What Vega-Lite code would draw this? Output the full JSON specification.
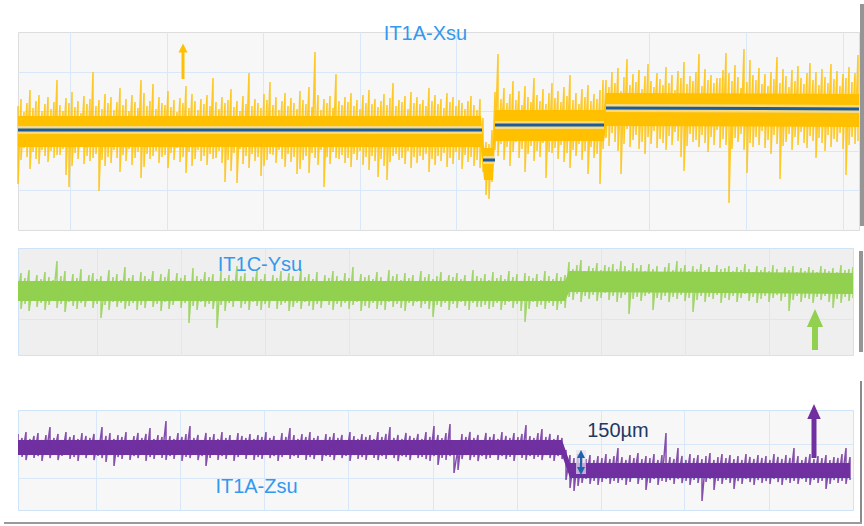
{
"$schema":"https://vega.github.io/schema/vega-lite/v6.json",
"background":"white",
"padding":0,
"spacing":0,
"columns":1,
"config":{"axis":{"labels":false,"ticks":false,"domain":false,"gridColor":"#d8e8f8","gridOpacity":1,"gridWidth":1},"text":{"font":"Liberation Sans"}},
"datasets":{
"a1":[{"x":0,"l":83,"h":114},{"x":463,"l":83,"h":114},{"x":466,"l":50,"h":82},{"x":475,"l":50,"h":82},{"x":477,"l":89,"h":120},{"x":586,"l":89,"h":120},{"x":588,"l":104,"h":137},{"x":841,"l":103,"h":136}],
"a2":[
{"x":0,"h":124,"l":46},{"x":3,"h":131,"l":70},{"x":6,"h":118,"l":82},{"x":9,"h":127,"l":73},{"x":12,"h":140,"l":61},{"x":15,"h":122,"l":78},{"x":18,"h":129,"l":71},{"x":21,"h":135,"l":66},{"x":24,"h":119,"l":80},{"x":27,"h":126,"l":74},
{"x":30,"h":133,"l":68},{"x":33,"h":121,"l":79},{"x":36,"h":128,"l":72},{"x":39,"h":150,"l":75},{"x":42,"h":125,"l":75},{"x":45,"h":119,"l":81},{"x":48,"h":132,"l":55},{"x":51,"h":127,"l":43},{"x":54,"h":138,"l":64},{"x":57,"h":123,"l":77},
{"x":60,"h":129,"l":71},{"x":63,"h":117,"l":83},{"x":66,"h":134,"l":66},{"x":69,"h":126,"l":74},{"x":72,"h":131,"l":69},{"x":75,"h":158,"l":72},{"x":78,"h":124,"l":76},{"x":81,"h":130,"l":39},{"x":84,"h":121,"l":70},{"x":87,"h":136,"l":64},
{"x":90,"h":127,"l":73},{"x":93,"h":133,"l":67},{"x":96,"h":120,"l":80},{"x":99,"h":128,"l":72},{"x":102,"h":142,"l":58},{"x":105,"h":125,"l":75},{"x":108,"h":131,"l":69},{"x":111,"h":119,"l":81},{"x":114,"h":135,"l":65},{"x":117,"h":128,"l":72},
{"x":120,"h":122,"l":78},{"x":123,"h":150,"l":52},{"x":126,"h":137,"l":63},{"x":129,"h":124,"l":76},{"x":132,"h":129,"l":71},{"x":135,"h":146,"l":74},{"x":138,"h":121,"l":79},{"x":141,"h":133,"l":67},{"x":144,"h":127,"l":73},{"x":147,"h":125,"l":75},
{"x":150,"h":139,"l":62},{"x":153,"h":123,"l":77},{"x":156,"h":130,"l":70},{"x":159,"h":118,"l":82},{"x":162,"h":132,"l":68},{"x":165,"h":127,"l":73},{"x":168,"h":144,"l":57},{"x":171,"h":122,"l":78},{"x":174,"h":136,"l":64},{"x":177,"h":129,"l":71},
{"x":180,"h":120,"l":80},{"x":183,"h":131,"l":69},{"x":186,"h":126,"l":74},{"x":189,"h":135,"l":65},{"x":192,"h":124,"l":76},{"x":195,"h":152,"l":71},{"x":198,"h":128,"l":72},{"x":201,"h":121,"l":79},{"x":204,"h":133,"l":67},{"x":207,"h":127,"l":48},
{"x":210,"h":130,"l":70},{"x":213,"h":141,"l":59},{"x":216,"h":123,"l":77},{"x":219,"h":129,"l":47},{"x":222,"h":119,"l":81},{"x":225,"h":134,"l":66},{"x":228,"h":126,"l":74},{"x":231,"h":157,"l":62},{"x":234,"h":124,"l":76},{"x":237,"h":131,"l":69},
{"x":240,"h":127,"l":73},{"x":243,"h":122,"l":54},{"x":246,"h":136,"l":64},{"x":249,"h":130,"l":70},{"x":252,"h":148,"l":76},{"x":255,"h":125,"l":75},{"x":258,"h":133,"l":67},{"x":261,"h":120,"l":80},{"x":264,"h":129,"l":71},{"x":267,"h":137,"l":63},
{"x":270,"h":124,"l":76},{"x":273,"h":132,"l":68},{"x":276,"h":127,"l":73},{"x":279,"h":121,"l":56},{"x":282,"h":139,"l":61},{"x":285,"h":130,"l":70},{"x":288,"h":126,"l":74},{"x":291,"h":143,"l":57},{"x":294,"h":123,"l":77},{"x":297,"h":178,"l":72},
{"x":300,"h":135,"l":65},{"x":303,"h":120,"l":80},{"x":306,"h":131,"l":43},{"x":309,"h":127,"l":73},{"x":312,"h":134,"l":66},{"x":315,"h":122,"l":78},{"x":318,"h":156,"l":72},{"x":321,"h":129,"l":71},{"x":324,"h":125,"l":75},{"x":327,"h":133,"l":67},
{"x":330,"h":128,"l":72},{"x":333,"h":137,"l":63},{"x":336,"h":124,"l":76},{"x":339,"h":130,"l":70},{"x":342,"h":121,"l":79},{"x":345,"h":135,"l":65},{"x":348,"h":127,"l":73},{"x":351,"h":140,"l":60},{"x":354,"h":126,"l":74},{"x":357,"h":131,"l":69},
{"x":360,"h":123,"l":53},{"x":363,"h":129,"l":71},{"x":366,"h":136,"l":64},{"x":369,"h":125,"l":50},{"x":372,"h":132,"l":68},{"x":375,"h":147,"l":74},{"x":378,"h":124,"l":76},{"x":381,"h":130,"l":70},{"x":384,"h":128,"l":72},{"x":387,"h":134,"l":66},
{"x":390,"h":121,"l":79},{"x":393,"h":138,"l":62},{"x":396,"h":127,"l":73},{"x":399,"h":133,"l":67},{"x":402,"h":126,"l":74},{"x":405,"h":130,"l":70},{"x":408,"h":124,"l":76},{"x":411,"h":142,"l":58},{"x":414,"h":129,"l":71},{"x":417,"h":135,"l":65},
{"x":420,"h":126,"l":74},{"x":423,"h":131,"l":69},{"x":426,"h":122,"l":77},{"x":429,"h":137,"l":63},{"x":432,"h":128,"l":72},{"x":435,"h":133,"l":66},{"x":438,"h":124,"l":78},{"x":441,"h":130,"l":70},{"x":444,"h":127,"l":61},{"x":447,"h":121,"l":75},
{"x":450,"h":129,"l":68},{"x":453,"h":134,"l":73},{"x":456,"h":125,"l":64},{"x":459,"h":120,"l":70},{"x":462,"h":131,"l":62},
{"x":465,"h":112,"l":58},{"x":468,"h":88,"l":35},{"x":471,"h":86,"l":31},{"x":474,"h":100,"l":48},
{"x":477,"h":138,"l":80},{"x":480,"h":176,"l":74},{"x":483,"h":131,"l":86},{"x":486,"h":142,"l":70},{"x":489,"h":127,"l":83},{"x":492,"h":136,"l":64},{"x":495,"h":149,"l":78},{"x":498,"h":130,"l":88},{"x":501,"h":139,"l":72},{"x":504,"h":125,"l":81},
{"x":507,"h":144,"l":58},{"x":510,"h":133,"l":76},{"x":513,"h":128,"l":84},{"x":516,"h":152,"l":69},{"x":519,"h":135,"l":79},{"x":522,"h":129,"l":73},{"x":525,"h":141,"l":87},{"x":528,"h":126,"l":52},{"x":531,"h":137,"l":78},{"x":534,"h":147,"l":77},
{"x":537,"h":132,"l":82},{"x":540,"h":139,"l":71},{"x":543,"h":128,"l":85},{"x":546,"h":143,"l":68},{"x":549,"h":134,"l":77},{"x":552,"h":155,"l":62},{"x":555,"h":130,"l":80},{"x":558,"h":137,"l":74},{"x":561,"h":126,"l":86},{"x":564,"h":141,"l":70},
{"x":567,"h":133,"l":79},{"x":570,"h":145,"l":56},{"x":573,"h":129,"l":83},{"x":576,"h":136,"l":72},{"x":579,"h":131,"l":76},{"x":582,"h":140,"l":46},{"x":585,"h":150,"l":81},
{"x":588,"h":150,"l":92},{"x":591,"h":143,"l":84},{"x":594,"h":158,"l":97},{"x":597,"h":147,"l":88},{"x":600,"h":162,"l":79},{"x":603,"h":139,"l":56},{"x":606,"h":153,"l":86},{"x":609,"h":171,"l":101},{"x":612,"h":145,"l":83},{"x":615,"h":156,"l":90},
{"x":618,"h":148,"l":95},{"x":621,"h":160,"l":81},{"x":624,"h":141,"l":88},{"x":627,"h":154,"l":76},{"x":630,"h":166,"l":93},{"x":633,"h":149,"l":86},{"x":636,"h":143,"l":99},{"x":639,"h":157,"l":82},{"x":642,"h":151,"l":91},{"x":645,"h":145,"l":87},
{"x":648,"h":163,"l":80},{"x":651,"h":147,"l":94},{"x":654,"h":155,"l":85},{"x":657,"h":140,"l":98},{"x":660,"h":159,"l":89},{"x":663,"h":152,"l":73},{"x":666,"h":168,"l":59},{"x":669,"h":146,"l":84},{"x":672,"h":154,"l":96},{"x":675,"h":149,"l":88},
{"x":678,"h":158,"l":90},{"x":681,"h":176,"l":83},{"x":684,"h":144,"l":95},{"x":687,"h":161,"l":87},{"x":690,"h":150,"l":78},{"x":693,"h":155,"l":93},{"x":696,"h":147,"l":85},{"x":699,"h":152,"l":100},{"x":702,"h":152,"l":82},{"x":705,"h":160,"l":91},
{"x":708,"h":177,"l":85},{"x":711,"h":157,"l":27},{"x":714,"h":149,"l":81},{"x":717,"h":165,"l":92},{"x":720,"h":153,"l":88},{"x":723,"h":142,"l":96},{"x":726,"h":181,"l":80},{"x":729,"h":148,"l":57},{"x":732,"h":170,"l":87},{"x":735,"h":155,"l":83},
{"x":738,"h":150,"l":93},{"x":741,"h":162,"l":85},{"x":744,"h":146,"l":99},{"x":747,"h":156,"l":82},{"x":750,"h":144,"l":90},{"x":753,"h":158,"l":76},{"x":756,"h":151,"l":95},{"x":759,"h":173,"l":86},{"x":762,"h":147,"l":51},{"x":765,"h":161,"l":84},
{"x":768,"h":154,"l":88},{"x":771,"h":143,"l":96},{"x":774,"h":160,"l":80},{"x":777,"h":149,"l":93},{"x":780,"h":164,"l":85},{"x":783,"h":152,"l":98},{"x":786,"h":146,"l":87},{"x":789,"h":157,"l":82},{"x":792,"h":167,"l":94},{"x":795,"h":150,"l":89},
{"x":798,"h":158,"l":72},{"x":801,"h":145,"l":92},{"x":804,"h":161,"l":87},{"x":807,"h":153,"l":79},{"x":810,"h":147,"l":95},{"x":813,"h":166,"l":83},{"x":816,"h":151,"l":91},{"x":819,"h":159,"l":88},{"x":822,"h":144,"l":97},{"x":825,"h":156,"l":81},
{"x":828,"h":152,"l":55},{"x":831,"h":163,"l":85},{"x":834,"h":148,"l":93},{"x":837,"h":157,"l":86},{"x":840,"h":175,"l":89}],
"am":[{"x":0,"x2":464,"l":100,"h":100},{"x":465,"x2":477,"l":70,"h":70},{"x":477,"x2":586,"l":105,"h":105},{"x":588,"x2":841,"l":122,"h":121}],
"b1":[{"x":0,"l":54,"h":74},{"x":552,"l":54,"h":74},{"x":556,"l":63,"h":84},{"x":840,"l":61,"h":82}],
"b2":[
{"x":0,"h":79,"l":49},{"x":4,"h":74,"l":53},{"x":8,"h":82,"l":46},{"x":12,"h":77,"l":51},{"x":16,"h":85,"l":44},{"x":20,"h":72,"l":55},{"x":24,"h":80,"l":48},{"x":28,"h":76,"l":52},{"x":32,"h":83,"l":45},{"x":36,"h":78,"l":50},
{"x":40,"h":75,"l":54},{"x":44,"h":94,"l":47},{"x":48,"h":79,"l":51},{"x":52,"h":84,"l":43},{"x":56,"h":73,"l":53},{"x":60,"h":81,"l":49},{"x":64,"h":77,"l":46},{"x":68,"h":86,"l":52},{"x":72,"h":74,"l":48},{"x":76,"h":80,"l":55},
{"x":80,"h":82,"l":47},{"x":84,"h":76,"l":51},{"x":88,"h":79,"l":37},{"x":92,"h":73,"l":50},{"x":96,"h":85,"l":45},{"x":100,"h":78,"l":53},{"x":104,"h":81,"l":48},{"x":108,"h":75,"l":52},{"x":112,"h":88,"l":46},{"x":116,"h":77,"l":49},
{"x":120,"h":80,"l":52},{"x":124,"h":74,"l":45},{"x":128,"h":83,"l":50},{"x":132,"h":79,"l":47},{"x":136,"h":76,"l":54},{"x":140,"h":84,"l":48},{"x":144,"h":72,"l":51},{"x":148,"h":81,"l":44},{"x":152,"h":78,"l":53},{"x":156,"h":86,"l":46},
{"x":160,"h":75,"l":50},{"x":164,"h":82,"l":54},{"x":168,"h":77,"l":47},{"x":172,"h":80,"l":52},{"x":176,"h":74,"l":32},{"x":180,"h":87,"l":49},{"x":184,"h":79,"l":45},{"x":188,"h":76,"l":53},{"x":192,"h":83,"l":48},{"x":196,"h":78,"l":51},
{"x":200,"h":81,"l":46},{"x":204,"h":73,"l":27},{"x":208,"h":84,"l":50},{"x":212,"h":77,"l":44},{"x":216,"h":80,"l":52},{"x":220,"h":75,"l":48},{"x":224,"h":89,"l":54},{"x":228,"h":79,"l":47},{"x":232,"h":82,"l":51},{"x":236,"h":74,"l":45},
{"x":240,"h":78,"l":53},{"x":244,"h":85,"l":49},{"x":248,"h":76,"l":45},{"x":252,"h":81,"l":51},{"x":256,"h":73,"l":47},{"x":260,"h":80,"l":54},{"x":264,"h":77,"l":46},{"x":268,"h":84,"l":50},{"x":272,"h":75,"l":52},{"x":276,"h":82,"l":44},
{"x":280,"h":79,"l":48},{"x":284,"h":74,"l":52},{"x":288,"h":86,"l":46},{"x":292,"h":78,"l":53},{"x":296,"h":81,"l":49},{"x":300,"h":76,"l":45},{"x":304,"h":83,"l":51},{"x":308,"h":72,"l":47},{"x":312,"h":80,"l":54},{"x":316,"h":77,"l":50},
{"x":320,"h":84,"l":45},{"x":324,"h":79,"l":51},{"x":328,"h":75,"l":48},{"x":332,"h":82,"l":52},{"x":336,"h":77,"l":46},{"x":340,"h":88,"l":50},{"x":344,"h":74,"l":53},{"x":348,"h":81,"l":44},{"x":352,"h":78,"l":49},{"x":356,"h":80,"l":47},
{"x":360,"h":76,"l":52},{"x":364,"h":83,"l":46},{"x":368,"h":78,"l":50},{"x":372,"h":73,"l":45},{"x":376,"h":85,"l":53},{"x":380,"h":79,"l":48},{"x":384,"h":81,"l":51},{"x":388,"h":75,"l":47},{"x":392,"h":82,"l":44},{"x":396,"h":77,"l":52},
{"x":400,"h":80,"l":49},{"x":404,"h":74,"l":53},{"x":408,"h":84,"l":47},{"x":412,"h":78,"l":51},{"x":416,"h":81,"l":46},{"x":420,"h":76,"l":38},{"x":424,"h":79,"l":50},{"x":428,"h":83,"l":48},{"x":432,"h":75,"l":52},{"x":436,"h":80,"l":45},
{"x":440,"h":78,"l":51},{"x":444,"h":82,"l":47},{"x":448,"h":76,"l":53},{"x":452,"h":80,"l":49},{"x":456,"h":74,"l":45},{"x":460,"h":85,"l":52},{"x":464,"h":79,"l":48},{"x":468,"h":77,"l":48},{"x":472,"h":81,"l":50},{"x":476,"h":75,"l":46},
{"x":480,"h":83,"l":48},{"x":484,"h":77,"l":52},{"x":488,"h":80,"l":45},{"x":492,"h":76,"l":50},{"x":496,"h":84,"l":53},{"x":500,"h":78,"l":47},{"x":504,"h":81,"l":51},{"x":508,"h":74,"l":44},{"x":512,"h":82,"l":33},{"x":516,"h":79,"l":46},
{"x":520,"h":77,"l":53},{"x":524,"h":81,"l":48},{"x":528,"h":75,"l":50},{"x":532,"h":84,"l":46},{"x":536,"h":79,"l":52},{"x":540,"h":76,"l":49},{"x":544,"h":82,"l":45},{"x":548,"h":78,"l":51},{"x":552,"h":80,"l":47},
{"x":556,"h":93,"l":58},{"x":560,"h":86,"l":55},{"x":564,"h":90,"l":61},{"x":568,"h":95,"l":53},{"x":572,"h":84,"l":59},{"x":576,"h":89,"l":56},{"x":580,"h":87,"l":60},{"x":584,"h":92,"l":54},{"x":588,"h":85,"l":57},{"x":592,"h":90,"l":62},
{"x":596,"h":88,"l":55},{"x":600,"h":91,"l":59},{"x":604,"h":86,"l":53},{"x":608,"h":94,"l":57},{"x":612,"h":89,"l":60},{"x":616,"h":85,"l":41},{"x":620,"h":92,"l":56},{"x":624,"h":87,"l":58},{"x":628,"h":90,"l":54},{"x":632,"h":84,"l":59},
{"x":636,"h":91,"l":61},{"x":640,"h":86,"l":45},{"x":644,"h":89,"l":57},{"x":648,"h":83,"l":55},{"x":652,"h":88,"l":59},{"x":656,"h":92,"l":53},{"x":660,"h":85,"l":58},{"x":664,"h":94,"l":56},{"x":668,"h":87,"l":60},{"x":672,"h":90,"l":54},
{"x":676,"h":84,"l":57},{"x":680,"h":89,"l":43},{"x":684,"h":86,"l":55},{"x":688,"h":91,"l":59},{"x":692,"h":85,"l":53},{"x":696,"h":88,"l":58},{"x":700,"h":83,"l":56},{"x":704,"h":90,"l":60},{"x":708,"h":86,"l":52},{"x":712,"h":87,"l":57},
{"x":716,"h":89,"l":55},{"x":720,"h":84,"l":59},{"x":724,"h":88,"l":53},{"x":728,"h":85,"l":57},{"x":732,"h":91,"l":61},{"x":736,"h":86,"l":54},{"x":740,"h":83,"l":58},{"x":744,"h":89,"l":52},{"x":748,"h":85,"l":56},{"x":752,"h":88,"l":59},
{"x":756,"h":84,"l":53},{"x":760,"h":90,"l":57},{"x":764,"h":86,"l":60},{"x":768,"h":82,"l":54},{"x":772,"h":88,"l":58},{"x":776,"h":85,"l":44},{"x":780,"h":89,"l":55},{"x":784,"h":83,"l":59},{"x":788,"h":87,"l":53},{"x":792,"h":84,"l":57},
{"x":796,"h":88,"l":56},{"x":800,"h":85,"l":52},{"x":804,"h":83,"l":58},{"x":808,"h":89,"l":55},{"x":812,"h":86,"l":59},{"x":816,"h":84,"l":53},{"x":820,"h":87,"l":47},{"x":824,"h":83,"l":56},{"x":828,"h":90,"l":52},{"x":832,"h":85,"l":58},
{"x":836,"h":86,"l":54},{"x":840,"h":88,"l":57}],
"c1":[{"x":0,"l":55,"h":70},{"x":552,"l":55,"h":70},{"x":560,"l":32,"h":47},{"x":840,"l":32,"h":47}],
"c2":[
{"x":0,"h":73,"l":55},{"x":4,"h":70,"l":51},{"x":8,"h":76,"l":57},{"x":12,"h":72,"l":53},{"x":16,"h":78,"l":50},{"x":20,"h":71,"l":56},{"x":24,"h":74,"l":52},{"x":28,"h":77,"l":54},{"x":32,"h":70,"l":49},{"x":36,"h":75,"l":55},
{"x":40,"h":83,"l":52},{"x":44,"h":72,"l":56},{"x":48,"h":76,"l":50},{"x":52,"h":70,"l":54},{"x":56,"h":78,"l":57},{"x":60,"h":73,"l":51},{"x":64,"h":75,"l":53},{"x":68,"h":71,"l":49},{"x":72,"h":77,"l":55},{"x":76,"h":74,"l":52},
{"x":80,"h":72,"l":56},{"x":84,"h":76,"l":50},{"x":88,"h":70,"l":54},{"x":92,"h":83,"l":52},{"x":96,"h":74,"l":48},{"x":100,"h":77,"l":55},{"x":104,"h":71,"l":44},{"x":108,"h":75,"l":53},{"x":112,"h":73,"l":51},{"x":116,"h":78,"l":57},
{"x":120,"h":70,"l":50},{"x":124,"h":74,"l":54},{"x":128,"h":77,"l":52},{"x":132,"h":72,"l":56},{"x":136,"h":76,"l":49},{"x":140,"h":82,"l":53},{"x":144,"h":71,"l":51},{"x":148,"h":75,"l":55},{"x":152,"h":73,"l":52},{"x":156,"h":89,"l":50},
{"x":160,"h":74,"l":54},{"x":164,"h":71,"l":51},{"x":168,"h":77,"l":57},{"x":172,"h":73,"l":49},{"x":176,"h":76,"l":53},{"x":180,"h":84,"l":52},{"x":184,"h":72,"l":56},{"x":188,"h":75,"l":50},{"x":192,"h":70,"l":54},{"x":196,"h":77,"l":44},
{"x":200,"h":73,"l":52},{"x":204,"h":76,"l":56},{"x":208,"h":71,"l":50},{"x":212,"h":78,"l":54},{"x":216,"h":72,"l":51},{"x":220,"h":75,"l":55},{"x":224,"h":70,"l":49},{"x":228,"h":77,"l":53},{"x":232,"h":74,"l":57},{"x":236,"h":72,"l":51},
{"x":240,"h":76,"l":55},{"x":244,"h":71,"l":50},{"x":248,"h":75,"l":53},{"x":252,"h":73,"l":51},{"x":256,"h":78,"l":56},{"x":260,"h":72,"l":52},{"x":264,"h":74,"l":54},{"x":268,"h":70,"l":49},{"x":272,"h":77,"l":53},{"x":276,"h":73,"l":55},
{"x":280,"h":82,"l":51},{"x":284,"h":75,"l":54},{"x":288,"h":71,"l":52},{"x":292,"h":76,"l":57},{"x":296,"h":73,"l":50},{"x":300,"h":78,"l":53},{"x":304,"h":72,"l":51},{"x":308,"h":74,"l":55},{"x":312,"h":70,"l":49},{"x":316,"h":76,"l":54},
{"x":320,"h":73,"l":53},{"x":324,"h":77,"l":50},{"x":328,"h":72,"l":56},{"x":332,"h":75,"l":52},{"x":336,"h":70,"l":54},{"x":340,"h":78,"l":49},{"x":344,"h":74,"l":55},{"x":348,"h":71,"l":51},{"x":352,"h":76,"l":53},{"x":356,"h":73,"l":50},
{"x":360,"h":75,"l":56},{"x":364,"h":71,"l":52},{"x":368,"h":78,"l":50},{"x":372,"h":73,"l":54},{"x":376,"h":76,"l":51},{"x":380,"h":83,"l":55},{"x":384,"h":72,"l":52},{"x":388,"h":75,"l":49},{"x":392,"h":71,"l":54},{"x":396,"h":77,"l":53},
{"x":400,"h":74,"l":50},{"x":404,"h":72,"l":55},{"x":408,"h":76,"l":52},{"x":412,"h":71,"l":53},{"x":416,"h":78,"l":51},{"x":420,"h":73,"l":49},{"x":424,"h":84,"l":54},{"x":428,"h":75,"l":45},{"x":432,"h":72,"l":52},{"x":436,"h":77,"l":50},
{"x":440,"h":86,"l":54},{"x":444,"h":66,"l":37},{"x":448,"h":62,"l":40},{"x":452,"h":76,"l":51},{"x":456,"h":73,"l":55},{"x":460,"h":78,"l":50},{"x":464,"h":72,"l":53},{"x":468,"h":75,"l":49},{"x":472,"h":70,"l":54},{"x":476,"h":77,"l":51},
{"x":480,"h":73,"l":52},{"x":484,"h":76,"l":55},{"x":488,"h":71,"l":50},{"x":492,"h":78,"l":54},{"x":496,"h":74,"l":51},{"x":500,"h":72,"l":53},{"x":504,"h":77,"l":49},{"x":508,"h":73,"l":55},{"x":512,"h":76,"l":52},{"x":516,"h":85,"l":50},
{"x":520,"h":74,"l":54},{"x":524,"h":72,"l":51},{"x":528,"h":77,"l":53},{"x":532,"h":81,"l":50},{"x":536,"h":73,"l":55},{"x":540,"h":76,"l":52},{"x":544,"h":71,"l":49},{"x":548,"h":75,"l":54},{"x":552,"h":72,"l":51},
{"x":556,"h":60,"l":30},{"x":560,"h":55,"l":22},{"x":564,"h":52,"l":19},{"x":568,"h":56,"l":24},{"x":572,"h":53,"l":27},{"x":576,"h":51,"l":31},{"x":580,"h":55,"l":26},{"x":584,"h":50,"l":29},{"x":588,"h":54,"l":25},{"x":592,"h":52,"l":28},
{"x":596,"h":56,"l":31},{"x":600,"h":51,"l":26},{"x":604,"h":54,"l":29},{"x":608,"h":62,"l":27},{"x":612,"h":53,"l":30},{"x":616,"h":50,"l":25},{"x":620,"h":55,"l":28},{"x":624,"h":52,"l":32},{"x":628,"h":57,"l":26},{"x":632,"h":51,"l":30},
{"x":636,"h":54,"l":20},{"x":640,"h":52,"l":27},{"x":644,"h":56,"l":31},{"x":648,"h":50,"l":25},{"x":652,"h":55,"l":29},{"x":656,"h":77,"l":28},{"x":660,"h":53,"l":30},{"x":664,"h":51,"l":26},{"x":668,"h":62,"l":31},{"x":672,"h":54,"l":27},
{"x":676,"h":50,"l":29},{"x":680,"h":56,"l":25},{"x":684,"h":52,"l":30},{"x":688,"h":55,"l":27},{"x":692,"h":51,"l":9},{"x":696,"h":54,"l":28},{"x":700,"h":57,"l":31},{"x":704,"h":50,"l":20},{"x":708,"h":53,"l":29},{"x":712,"h":56,"l":26},
{"x":716,"h":52,"l":30},{"x":720,"h":55,"l":27},{"x":724,"h":51,"l":21},{"x":728,"h":54,"l":29},{"x":732,"h":50,"l":26},{"x":736,"h":56,"l":31},{"x":740,"h":53,"l":28},{"x":744,"h":51,"l":25},{"x":748,"h":55,"l":30},{"x":752,"h":52,"l":27},
{"x":756,"h":54,"l":29},{"x":760,"h":50,"l":26},{"x":764,"h":56,"l":31},{"x":768,"h":53,"l":28},{"x":772,"h":51,"l":25},{"x":776,"h":55,"l":30},{"x":780,"h":52,"l":27},{"x":784,"h":62,"l":29},{"x":788,"h":54,"l":26},{"x":792,"h":50,"l":31},
{"x":796,"h":53,"l":28},{"x":800,"h":56,"l":25},{"x":804,"h":51,"l":30},{"x":808,"h":54,"l":27},{"x":812,"h":52,"l":29},{"x":816,"h":55,"l":21},{"x":820,"h":50,"l":26},{"x":824,"h":53,"l":30},{"x":828,"h":52,"l":27},{"x":832,"h":56,"l":29},
{"x":836,"h":62,"l":26},{"x":840,"h":53,"l":30}]
},
"concat":[
{
"width":841,"height":198,
"view":{"fill":"#f7f7f7","stroke":"#dddddd"},
"encoding":{
"x":{"field":"x","type":"quantitative","scale":{"domain":[0,841],"nice":false,"zero":false},"axis":{"orient":"top","minExtent":30,"grid":true,"values":[52,149,245,342,438,535,631,728,825],"title":null}},
"y":{"field":"l","type":"quantitative","scale":{"domain":[0,198],"nice":false,"zero":false},"axis":{"orient":"left","minExtent":17,"grid":true,"values":[39.6,79.2,118.8,158.4],"title":null}}
},
"layer":[
{"data":{"values":[{"x":844.5,"l":4,"h":226}]},"mark":{"type":"rule","color":"#7a7a7a","strokeWidth":5,"opacity":0.8},"encoding":{"y2":{"field":"h"}}},
{"data":{"name":"a1"},"mark":{"type":"area","color":"#ffc000","opacity":1},"encoding":{"y2":{"field":"h"}}},
{"data":{"name":"a2"},"transform":[{"fold":["h","l"],"as":["k","l"]}],"mark":{"type":"line","color":"#ffc000","strokeWidth":1.5,"opacity":0.85},"encoding":{"order":[{"field":"x","type":"quantitative"},{"field":"k","type":"nominal"}]}},
{"data":{"name":"am"},"mark":{"type":"rule","color":"#f1e2b0","strokeWidth":8,"opacity":0.75},"encoding":{"x2":{"field":"x2"},"y2":{"field":"h"}}},
{"data":{"name":"am"},"mark":{"type":"rule","color":"#1d5b98","strokeWidth":3},"encoding":{"x2":{"field":"x2"},"y2":{"field":"h"}}},
{"data":{"values":[{"x":165,"l":151,"h":180}]},"mark":{"type":"rule","color":"#ffc000","strokeWidth":3},"encoding":{"y2":{"field":"h"}}},
{"data":{"values":[{"x":165,"l":182}]},"mark":{"type":"point","shape":"M0,-1L1,1L-1,1Z","filled":true,"size":81,"color":"#ffc000","opacity":1}},
{"data":{"values":[{"x":407.5,"l":190,"t":"IT1A-Xsu"}]},"mark":{"type":"text","fontSize":20,"color":"#3399ee","align":"center","baseline":"alphabetic"},"encoding":{"text":{"field":"t"}}}
]
},
{
"width":835,"height":107,
"view":{"fill":"#efefef","stroke":"#cfe2f7"},
"encoding":{
"x":{"field":"x","type":"quantitative","scale":{"domain":[5,840],"nice":false,"zero":false},"axis":{"orient":"top","minExtent":16,"grid":true,"values":[84,168,252,336,420,504,588,672,756],"title":null}},
"y":{"field":"l","type":"quantitative","scale":{"domain":[0,107],"nice":false,"zero":false},"axis":{"orient":"left","minExtent":12,"grid":true,"values":[36,71.5],"title":null}}
},
"layer":[
{"data":{"values":[{"x":848,"l":3,"h":104}]},"mark":{"type":"rule","color":"#7a7a7a","strokeWidth":4,"opacity":0.8},"encoding":{"y2":{"field":"h"}}},
{"data":{"name":"b1"},"mark":{"type":"area","color":"#92d050","opacity":1,"clip":true},"encoding":{"y2":{"field":"h"}}},
{"data":{"name":"b2"},"transform":[{"fold":["h","l"],"as":["k","l"]}],"mark":{"type":"line","color":"#92d050","strokeWidth":1.5,"opacity":0.85,"clip":true},"encoding":{"order":[{"field":"x","type":"quantitative"},{"field":"k","type":"nominal"}]}},
{"data":{"values":[{"x":802,"l":5,"h":34}]},"mark":{"type":"rule","color":"#92d050","strokeWidth":6},"encoding":{"y2":{"field":"h"}}},
{"data":{"values":[{"x":802,"l":37}]},"mark":{"type":"point","shape":"M0,-1L0.9,1L-0.9,1Z","filled":true,"size":324,"color":"#92d050","opacity":1}},
{"data":{"values":[{"x":247,"l":84,"t":"IT1C-Ysu"}]},"mark":{"type":"text","fontSize":20,"color":"#3399ee","align":"center","baseline":"alphabetic"},"encoding":{"text":{"field":"t"}}}
]
},
{
"width":835,"height":100,
"view":{"fill":"#f7f7f7","stroke":"#d0e4f8"},
"encoding":{
"x":{"field":"x","type":"quantitative","scale":{"domain":[8,843],"nice":false,"zero":false},"axis":{"orient":"top","minExtent":53,"grid":true,"values":[86,170,254,338,423,507,591,674,759],"title":null}},
"y":{"field":"l","type":"quantitative","scale":{"domain":[0,100],"nice":false,"zero":false},"axis":{"orient":"left","minExtent":9,"grid":true,"values":[32.5,66],"title":null}}
},
"layer":[
{"data":{"values":[{"x":851,"l":-13,"h":129}]},"mark":{"type":"rule","color":"#8a8a8a","strokeWidth":2},"encoding":{"y2":{"field":"h"}}},
{"data":{"values":[{"x":-6,"x2":852,"l":-13,"h":-13}]},"mark":{"type":"rule","color":"#9a9a9a","strokeWidth":2},"encoding":{"x2":{"field":"x2"},"y2":{"field":"h"}}},
{"data":{"name":"c1"},"mark":{"type":"area","color":"#7030a0","opacity":1,"clip":true},"encoding":{"y2":{"field":"h"}}},
{"data":{"name":"c2"},"transform":[{"fold":["h","l"],"as":["k","l"]}],"mark":{"type":"line","color":"#7030a0","strokeWidth":1.5,"opacity":0.85,"clip":true},"encoding":{"order":[{"field":"x","type":"quantitative"},{"field":"k","type":"nominal"}]}},
{"data":{"values":[{"x":804,"l":52,"h":95}]},"mark":{"type":"rule","color":"#7030a0","strokeWidth":5},"encoding":{"y2":{"field":"h"}}},
{"data":{"values":[{"x":804,"l":98.5}]},"mark":{"type":"point","shape":"M0,-1L0.9,1L-0.9,1Z","filled":true,"size":225,"color":"#7030a0","opacity":1}},
{"data":{"values":[{"x":571,"l":36,"h":60}]},"mark":{"type":"rule","color":"#e6e0f0","strokeWidth":10,"opacity":0.7},"encoding":{"y2":{"field":"h"}}},
{"data":{"values":[{"x":571,"l":40,"h":55}]},"mark":{"type":"rule","color":"#1f63a8","strokeWidth":2.2},"encoding":{"y2":{"field":"h"}}},
{"data":{"values":[{"x":571,"l":56}]},"mark":{"type":"point","shape":"M0,-1L1,1L-1,1Z","filled":true,"size":64,"color":"#1f63a8","opacity":1}},
{"data":{"values":[{"x":571,"l":39}]},"mark":{"type":"point","shape":"M0,1L1,-1L-1,-1Z","filled":true,"size":64,"color":"#1f63a8","opacity":1}},
{"data":{"values":[{"x":608,"l":73,"t":"150µm"}]},"mark":{"type":"text","fontSize":20,"color":"#1f3864","align":"center","baseline":"alphabetic"},"encoding":{"text":{"field":"t"}}},
{"data":{"values":[{"x":246.5,"l":17,"t":"IT1A-Zsu"}]},"mark":{"type":"text","fontSize":20,"color":"#3399ee","align":"center","baseline":"alphabetic"},"encoding":{"text":{"field":"t"}}}
]
}
]
}
